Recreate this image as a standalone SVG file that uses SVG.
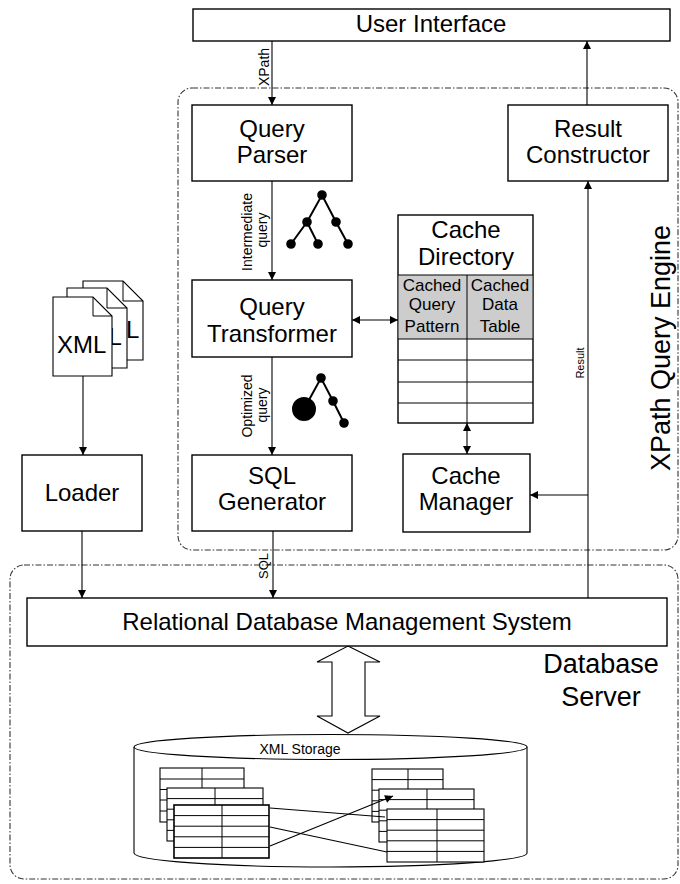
<svg xmlns="http://www.w3.org/2000/svg" width="680" height="884" viewBox="0 0 680 884">
  <defs>
    <marker id="ah" viewBox="0 0 10 10" refX="10" refY="5" markerWidth="9" markerHeight="8" orient="auto-start-reverse" markerUnits="userSpaceOnUse">
      <path d="M0,0 L10,5 L0,10 z" fill="#000"/>
    </marker>
  </defs>
  <style>
    text { font-family: "Liberation Sans", Arial, sans-serif; fill: #000; }
    .lbl { font-size: 24px; text-anchor: middle; }
    .big { font-size: 27px; text-anchor: middle; }
    .small { font-size: 14px; text-anchor: middle; }
    .cell { font-size: 17px; text-anchor: middle; }
    .doc { font-size: 24px; }
    .box { fill: #fff; stroke: #000; stroke-width: 1.4; }
    .thin { fill: #fff; stroke: #000; stroke-width: 1.1; }
    .ln { fill: none; stroke: #000; stroke-width: 1; }
    .wire { fill: none; stroke: #000; stroke-width: 1.1; }
    .region { fill: none; stroke: #333; stroke-width: 1.1; stroke-dasharray: 6 2 1.5 2; }
  </style>

  <rect width="680" height="884" fill="#fff"/>

  <!-- dashed grouping regions -->
  <g id="engine-region">
    <rect class="region" x="178" y="88" width="500" height="462" rx="14"/>
    <text class="big" transform="translate(670,348) rotate(-90)">XPath Query Engine</text>
  </g>
  <g id="server-region">
    <rect class="region" x="10" y="565" width="668" height="314" rx="14"/>
    <text class="big" x="601" y="673">Database</text>
    <text class="big" x="601" y="706">Server</text>
  </g>

  <!-- connectors -->
  <g id="connectors">
    <line class="wire" x1="272" y1="41" x2="272" y2="105" marker-end="url(#ah)"/>
    <text class="small" transform="translate(269,67) rotate(-90)">XPath</text>

    <line class="wire" x1="272" y1="181" x2="272" y2="280" marker-end="url(#ah)"/>
    <text class="small" transform="translate(252,232) rotate(-90)">Intermediate</text>
    <text class="small" transform="translate(267,230) rotate(-90)">query</text>

    <line class="wire" x1="272" y1="357" x2="272" y2="455" marker-end="url(#ah)"/>
    <text class="small" transform="translate(252,406) rotate(-90)">Optimized</text>
    <text class="small" transform="translate(267,405) rotate(-90)">query</text>

    <line class="wire" x1="273" y1="531" x2="273" y2="598" marker-end="url(#ah)"/>
    <text class="small" style="font-size:13px" transform="translate(268,566) rotate(-90)">SQL</text>

    <line class="wire" x1="352" y1="320" x2="398" y2="320" marker-start="url(#ah)" marker-end="url(#ah)"/>
    <line class="wire" x1="467" y1="423" x2="467" y2="454" marker-start="url(#ah)" marker-end="url(#ah)"/>

    <line class="wire" x1="588" y1="598" x2="588" y2="181" marker-end="url(#ah)"/>
    <polyline class="wire" points="588,495 530,495" marker-end="url(#ah)"/>
    <text class="small" style="font-size:11px" transform="translate(584,363) rotate(-90)">Result</text>

    <line class="wire" x1="587" y1="105" x2="587" y2="41" marker-end="url(#ah)"/>

    <line class="wire" x1="83" y1="376" x2="83" y2="455" marker-end="url(#ah)"/>
    <line class="wire" x1="82" y1="531" x2="82" y2="598" marker-end="url(#ah)"/>

    <!-- wide two-way arrow between DBMS and storage -->
    <polygon class="thin" points="348,646 380,662 365,662 365,716 380,716 348,733 317,716 332,716 332,662 317,662"/>
  </g>

  <!-- nodes -->
  <g id="user-interface">
    <rect class="box" x="193" y="9" width="477" height="32"/>
    <text class="lbl" x="431" y="32">User Interface</text>
  </g>

  <g id="query-parser">
    <rect class="box" x="192" y="105" width="160" height="76"/>
    <text class="lbl" x="272" y="137">Query</text>
    <text class="lbl" x="272" y="163">Parser</text>
    <!-- parse tree glyph -->
    <g stroke="#000" stroke-width="2" fill="#000">
      <polyline points="291,244 307,222 322,195 336,222 348,244" fill="none"/>
      <line x1="307" y1="222" x2="318" y2="244"/>
      <circle cx="322" cy="195" r="3.8"/>
      <circle cx="307" cy="222" r="3.8"/>
      <circle cx="336" cy="222" r="3.8"/>
      <circle cx="291" cy="244" r="3.8"/>
      <circle cx="318" cy="244" r="3.8"/>
      <circle cx="348" cy="244" r="3.8"/>
    </g>
  </g>

  <g id="result-constructor">
    <rect class="box" x="508" y="105" width="160" height="76"/>
    <text class="lbl" x="588" y="137">Result</text>
    <text class="lbl" x="588" y="163">Constructor</text>
  </g>

  <g id="query-transformer">
    <rect class="box" x="192" y="280" width="160" height="77"/>
    <text class="lbl" x="272" y="315">Query</text>
    <text class="lbl" x="272" y="342">Transformer</text>
    <!-- optimized tree glyph -->
    <g stroke="#000" stroke-width="2" fill="#000">
      <polyline points="304,409 321,378 333,401 344,423" fill="none"/>
      <circle cx="304" cy="409" r="11"/>
      <circle cx="321" cy="378" r="3.8"/>
      <circle cx="333" cy="401" r="3.8"/>
      <circle cx="344" cy="423" r="3.8"/>
    </g>
  </g>

  <g id="cache-directory">
    <rect class="box" x="398" y="215" width="135" height="208"/>
    <rect x="398.7" y="275" width="133.6" height="64" fill="#cdcdcd"/>
    <g class="ln">
      <line x1="398" y1="275" x2="533" y2="275"/>
      <line x1="398" y1="339" x2="533" y2="339"/>
      <line x1="398" y1="360" x2="533" y2="360"/>
      <line x1="398" y1="382" x2="533" y2="382"/>
      <line x1="398" y1="403" x2="533" y2="403"/>
      <line x1="467" y1="275" x2="467" y2="423"/>
    </g>
    <text class="lbl" x="466" y="238">Cache</text>
    <text class="lbl" x="466" y="265">Directory</text>
    <text class="cell" x="432" y="291">Cached</text>
    <text class="cell" x="432" y="310">Query</text>
    <text class="cell" x="432" y="332">Pattern</text>
    <text class="cell" x="500" y="291">Cached</text>
    <text class="cell" x="500" y="310">Data</text>
    <text class="cell" x="500" y="332">Table</text>
  </g>

  <g id="sql-generator">
    <rect class="box" x="192" y="455" width="160" height="76"/>
    <text class="lbl" x="272" y="484">SQL</text>
    <text class="lbl" x="272" y="510">Generator</text>
  </g>

  <g id="cache-manager">
    <rect class="box" x="403" y="454" width="127" height="78"/>
    <text class="lbl" x="466" y="484">Cache</text>
    <text class="lbl" x="466" y="510">Manager</text>
  </g>

  <g id="xml-documents">
    <!-- stacked pages; only the tail of the rear pages' label shows -->
    <path class="thin" d="M83,281 H123 L143,301 V360 H83 Z"/>
    <path class="ln" d="M123,281 V301 H143"/>
    <text class="doc" x="126" y="338">L</text>
    <path class="thin" d="M67,288 H107 L127,308 V368 H67 Z"/>
    <path class="ln" d="M107,288 V308 H127"/>
    <text class="doc" x="108.5" y="345">L</text>
    <path class="thin" d="M53,297 H93 L112,316 V376 H53 Z"/>
    <path class="ln" d="M93,297 V316 H112"/>
    <text class="doc" x="57" y="353">XML</text>
  </g>

  <g id="loader">
    <rect class="box" x="22" y="455" width="120" height="76"/>
    <text class="lbl" x="82" y="501">Loader</text>
  </g>

  <g id="rdbms">
    <rect class="box" x="27" y="598" width="640" height="48"/>
    <text class="lbl" x="347" y="630">Relational Database Management System</text>
  </g>

  <g id="xml-storage">
    <path class="thin" d="M134,747 V853 A196.5,14 0 0 0 527,853 V747"/>
    <ellipse class="thin" cx="330.5" cy="747" rx="196.5" ry="12.5"/>
    <text class="small" x="300" y="754">XML Storage</text>

    <!-- left stack of tables -->
    <g class="ln">
      <rect class="thin" x="160" y="768" width="84" height="54"/>
      <line x1="160" y1="779" x2="244" y2="779"/><line x1="160" y1="789.5" x2="244" y2="789.5"/>
      <line x1="160" y1="800" x2="244" y2="800"/><line x1="160" y1="811" x2="244" y2="811"/>
      <line x1="202" y1="768" x2="202" y2="822"/>

      <rect class="thin" x="167" y="788" width="96" height="53"/>
      <line x1="167" y1="798.6" x2="263" y2="798.6"/><line x1="167" y1="809.2" x2="263" y2="809.2"/>
      <line x1="167" y1="819.8" x2="263" y2="819.8"/><line x1="167" y1="830.4" x2="263" y2="830.4"/>
      <line x1="215" y1="788" x2="215" y2="841"/>

      <rect class="thin" x="174" y="805" width="95" height="53" style="stroke-width:1.6"/>
      <line x1="174" y1="815.6" x2="269" y2="815.6"/><line x1="174" y1="826.2" x2="269" y2="826.2"/>
      <line x1="174" y1="836.8" x2="269" y2="836.8"/><line x1="174" y1="847.4" x2="269" y2="847.4"/>
      <line x1="222" y1="805" x2="222" y2="858"/>
    </g>

    <!-- right stack of tables -->
    <g class="ln">
      <rect class="thin" x="372" y="769" width="71" height="53"/>
      <line x1="372" y1="779.6" x2="443" y2="779.6"/><line x1="372" y1="790.2" x2="443" y2="790.2"/>
      <line x1="372" y1="800.8" x2="443" y2="800.8"/><line x1="372" y1="811.4" x2="443" y2="811.4"/>
      <line x1="408" y1="769" x2="408" y2="822"/>

      <rect class="thin" x="379" y="789" width="95" height="53"/>
      <line x1="379" y1="799.6" x2="474" y2="799.6"/><line x1="379" y1="810.2" x2="474" y2="810.2"/>
      <line x1="379" y1="820.8" x2="474" y2="820.8"/><line x1="379" y1="831.4" x2="474" y2="831.4"/>
      <line x1="427" y1="789" x2="427" y2="842"/>

      <rect class="thin" x="387" y="809" width="97" height="53"/>
      <line x1="387" y1="819.6" x2="484" y2="819.6"/><line x1="387" y1="830.2" x2="484" y2="830.2"/>
      <line x1="387" y1="840.8" x2="484" y2="840.8"/><line x1="387" y1="851.4" x2="484" y2="851.4"/>
      <line x1="437" y1="809" x2="437" y2="862"/>
    </g>

    <!-- links between stored tables -->
    <g class="wire">
      <line x1="270" y1="808" x2="385" y2="817"/>
      <line x1="270" y1="827" x2="387" y2="852"/>
      <line x1="270" y1="846" x2="393" y2="796" marker-end="url(#ah)"/>
    </g>
  </g>
</svg>
